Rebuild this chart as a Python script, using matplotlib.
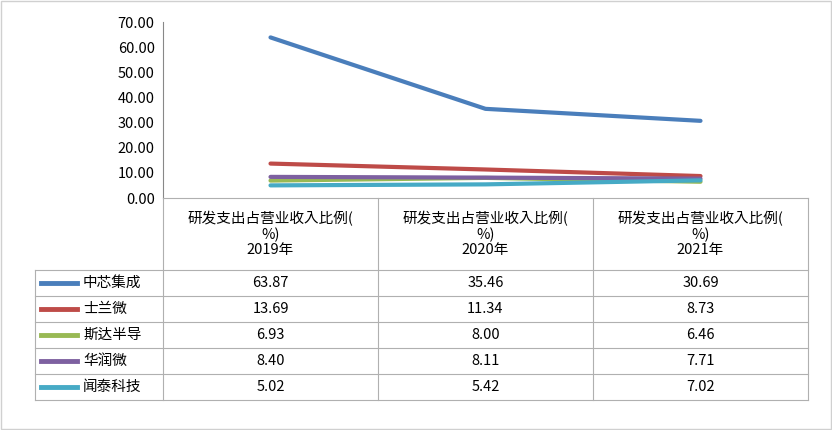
import matplotlib.pyplot as plt
from matplotlib import font_manager
from matplotlib.lines import Line2D
from matplotlib.patches import Rectangle

cjk = [f.name for f in font_manager.fontManager.ttflist if 'CJK' in f.name]
cjk_name = 'Noto Sans CJK SC' if 'Noto Sans CJK SC' in cjk else (cjk[0] if cjk else 'DejaVu Sans')
plt.rcParams['font.family'] = 'sans-serif'
plt.rcParams['font.sans-serif'] = [cjk_name, 'DejaVu Sans']

years = ['2019年', '2020年', '2021年']
header = '研发支出占营业收入比例(\n%)\n'
names = ['中芯集成', '士兰微', '斯达半导', '华润微', '闻泰科技']
values = [
    [63.87, 35.46, 30.69],
    [13.69, 11.34, 8.73],
    [6.93, 8.00, 6.46],
    [8.40, 8.11, 7.71],
    [5.02, 5.42, 7.02],
]
colors = ['#4a7ebb', '#be4b48', '#98b954', '#7d60a0', '#46aac5']

W, H = 832, 430
fig = plt.figure(figsize=(W / 100, H / 100), dpi=100)

# pixel geometry
x0, x1 = 163, 808
ytop, ybot = 22, 198
lx = 35
row_h = 26
hdr_bot = 270

ax = fig.add_axes([x0 / W, 1 - ybot / H, (x1 - x0) / W, (ybot - ytop) / H])
for i, s in enumerate(values):
    ax.plot(range(3), s, color=colors[i], lw=3, solid_capstyle='round')
ax.set_xlim(-0.5, 2.5)
ax.set_ylim(0, 70)
ax.set_yticks(range(0, 71, 10))
ax.set_yticklabels([f'{v:.2f}' for v in range(0, 71, 10)], fontsize=10.5)
ax.set_xticks([])
for sp in ['top', 'right', 'bottom']:
    ax.spines[sp].set_visible(False)
ax.spines['left'].set_color('#888888')
ax.tick_params(axis='y', length=0, pad=6)

# table overlay in pixel coords
tb = fig.add_axes([0, 0, 1, 1])
tb.set_xlim(0, W)
tb.set_ylim(H, 0)
tb.axis('off')
tb.add_patch(Rectangle((1, 1), W - 2, H - 2, fill=False, ec='#d0d0d0', lw=1))
gc = '#b0b0b0'
cols = [x0, x0 + 215, x0 + 430, x1]
for c in cols:
    tb.add_line(Line2D([c, c], [ybot, hdr_bot + 5 * row_h], color=gc, lw=0.8))
tb.add_line(Line2D([lx, lx], [hdr_bot, hdr_bot + 5 * row_h], color=gc, lw=0.8))
tb.add_line(Line2D([x0, x1], [ybot, ybot], color=gc, lw=0.8))
for r in range(6):
    y = hdr_bot + r * row_h
    tb.add_line(Line2D([lx, x1], [y, y], color=gc, lw=0.8))
for j in range(3):
    cx = (cols[j] + cols[j + 1]) / 2
    tb.text(cx, (ybot + hdr_bot) / 2, header + years[j], ha='center', va='center',
            fontsize=10.5, linespacing=1.1)
for i, n in enumerate(names):
    cy = hdr_bot + (i + 0.5) * row_h
    tb.add_line(Line2D([lx + 6, lx + 42], [cy, cy], color=colors[i], lw=3.5))
    tb.text(lx + 48, cy, n, ha='left', va='center', fontsize=10.5)
    for j in range(3):
        cx = (cols[j] + cols[j + 1]) / 2
        tb.text(cx, cy, f'{values[i][j]:.2f}', ha='center', va='center', fontsize=10.5)

fig.savefig('out.png', dpi=100)
